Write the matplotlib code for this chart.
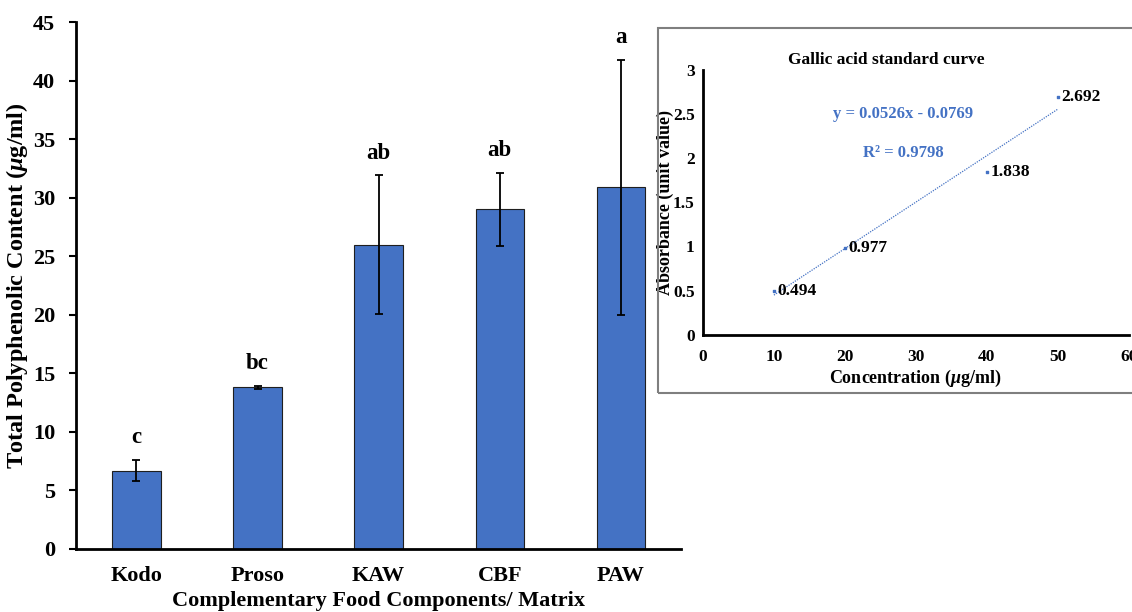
import matplotlib.pyplot as plt
from matplotlib.patches import Rectangle

plt.rcParams["font.family"] = ["Liberation Serif", "DejaVu Serif"]
plt.rcParams["font.weight"] = "bold"
plt.rcParams["mathtext.fontset"] = "custom"
plt.rcParams["mathtext.it"] = "Liberation Serif:italic:bold"
plt.rcParams["mathtext.rm"] = "Liberation Serif:bold"

# main bar chart data
categories = ["Kodo", "Proso", "KAW", "CBF", "PAW"]
tpc_means = [6.7, 13.8, 26.0, 29.0, 30.9]
tpc_errors = [0.9, 0.15, 5.9, 3.1, 10.9]
sig_letters = ["c", "bc", "ab", "ab", "a"]

# gallic acid standard curve data
conc = [10, 20, 40, 50]
absorb = [0.494, 0.977, 1.838, 2.692]
slope = 0.0526
intercept = -0.0769
r_squared = 0.9798

blue = "#4472C4"

fig = plt.figure(figsize=(11.32, 6.12), dpi=100)

# main axes
ax = fig.add_axes([0.067, 0.103, 0.535, 0.861])
xs = range(len(categories))
ax.bar(xs, tpc_means, width=0.4, color=blue, edgecolor="#1f1f1f", linewidth=0.8,
       zorder=2)
ax.errorbar(xs, tpc_means, yerr=tpc_errors, fmt="none", ecolor="black",
            elinewidth=1.3, capsize=3, capthick=1.3, zorder=3)
for x, m, e, lab in zip(xs, tpc_means, tpc_errors, sig_letters):
    ax.text(x, m + e + 1.0, lab, ha="center", va="bottom", fontsize=16.5,
            fontweight="bold")

ax.set_xlim(-0.5, len(categories) - 0.5)
ax.set_ylim(0, 45)
ax.set_yticks(range(0, 46, 5))
ax.set_xticks(list(xs))
ax.set_xticklabels(categories)
ax.tick_params(axis="x", length=0, labelsize=16, pad=12)
ax.tick_params(axis="y", length=5, width=1.5, labelsize=16, pad=10)
for s in ["top", "right"]:
    ax.spines[s].set_visible(False)
for s in ["left", "bottom"]:
    ax.spines[s].set_linewidth(2)
ax.set_ylabel(r"Total Polyphenolic Content ($\mu$g/ml)", fontsize=17.5,
              fontweight="bold")
ax.yaxis.set_label_coords(-0.075, 0.5)
ax.set_xlabel("Complementary Food Components/ Matrix", fontsize=16,
              fontweight="bold", labelpad=4)

# inset frame
fig.patches.append(Rectangle((0.581, 0.358), 0.45, 0.596, transform=fig.transFigure,
                             fill=False, edgecolor="#7f7f7f", linewidth=1.5))

# inset axes
ax2 = fig.add_axes([0.621, 0.453, 0.376, 0.433])
ax2.scatter(conc, absorb, s=4, marker="s", color=blue, zorder=3)
fit_x = [conc[0], conc[-1]]
fit_y = [slope * v + intercept for v in fit_x]
ax2.plot(fit_x, fit_y, color=blue, linestyle=(0, (1, 1)), linewidth=0.9)
for x, y in zip(conc, absorb):
    ax2.text(x + 0.5, y, f"{y:.3f}", ha="left", va="center", fontsize=12.5,
             fontweight="bold")
ax2.text(28.2, 2.5, f"y = {slope}x - {abs(intercept)}", color=blue, ha="center",
         va="center", fontsize=12, fontweight="bold")
ax2.text(28.2, 2.06, f"R² = {r_squared}", color=blue, ha="center", va="center",
         fontsize=12, fontweight="bold")
ax2.set_xlim(0, 60)
ax2.set_ylim(0, 3)
ax2.set_xticks(range(0, 61, 10))
ax2.set_yticks([0, 0.5, 1, 1.5, 2, 2.5, 3])
ax2.set_yticklabels(["0", "0.5", "1", "1.5", "2", "2.5", "3"])
ax2.tick_params(axis="x", length=0, labelsize=12.5, pad=10)
ax2.tick_params(axis="y", length=0, labelsize=12.5, pad=6)
for s in ["top", "right"]:
    ax2.spines[s].set_visible(False)
for s in ["left", "bottom"]:
    ax2.spines[s].set_linewidth(2)
ax2.set_title("Gallic acid standard curve", fontsize=12.5, fontweight="bold", pad=4,
              x=0.43)
ax2.set_xlabel(r"Concentration ($\mu$g/ml)", fontsize=13, fontweight="bold",
               labelpad=2)
ax2.set_ylabel("Absorbance (unit value)", fontsize=13, fontweight="bold")
ax2.yaxis.set_label_coords(-0.068, 0.5)

fig.savefig("out.png", dpi=100)
